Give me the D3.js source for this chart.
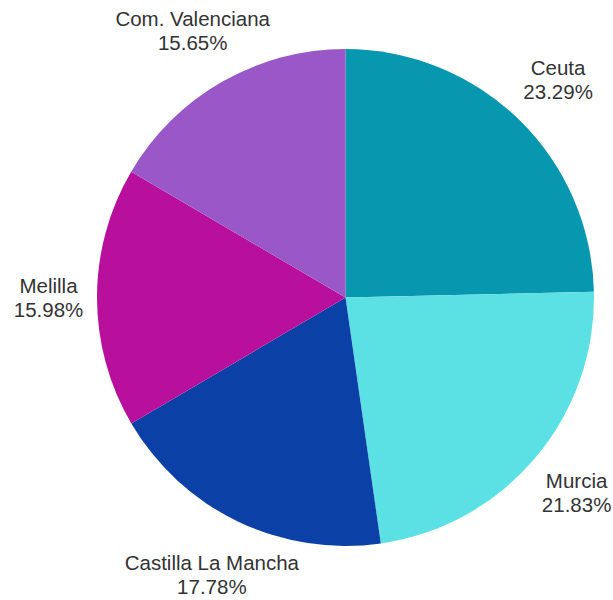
<!DOCTYPE html>
<html>
<head>
<meta charset="utf-8">
<script src="https://cdn.jsdelivr.net/npm/d3@7"></script>
<style>
  html, body { margin: 0; padding: 0; background: #fff; }
  svg { display: block; }
</style>
</head>
<body>
<script>
const categories = ["Ceuta", "Murcia", "Castilla La Mancha", "Melilla", "Com. Valenciana"];
const values = [23.29, 21.83, 17.78, 15.98, 15.65];
const colors = ["#0797ae", "#5be0e4", "#0b41a7", "#b8109c", "#9a57c8"];

const W = 613, H = 600;
const cx = 345.5, cy = 297.5, R = 248.5;

const svg = d3.select("body").append("svg").attr("width", W).attr("height", H);
const g = svg.append("g").attr("transform", `translate(${cx},${cy})`);

const data = categories.map((c, i) => ({ name: c, value: values[i], color: colors[i] }));
const pie = d3.pie().value(d => d.value).sort(null);
const arcs = pie(data);
const arc = d3.arc().innerRadius(0).outerRadius(R);

g.selectAll("path.slice").data(arcs).join("path")
  .attr("class", "slice")
  .attr("d", arc)
  .attr("fill", d => d.data.color);

g.selectAll("text.lbl").data(arcs).join("text")
  .attr("class", "lbl")
  .attr("font-family", "'Liberation Sans', Arial, sans-serif")
  .attr("font-size", 20.5)
  .attr("fill", "#333333")
  .attr("text-anchor", "middle")
  .each(function(d) {
    const a = (d.startAngle + d.endAngle) / 2;
    const rl = 297 + 14 * Math.cos(a) * Math.cos(a);
    const x = rl * Math.sin(a), y = -rl * Math.cos(a);
    const t = d3.select(this);
    t.append("tspan").attr("x", x).attr("y", y - 5).text(d.data.name);
    t.append("tspan").attr("x", x).attr("y", y + 19).text(d.data.value.toFixed(2) + "%");
  });
</script>
</body>
</html>
